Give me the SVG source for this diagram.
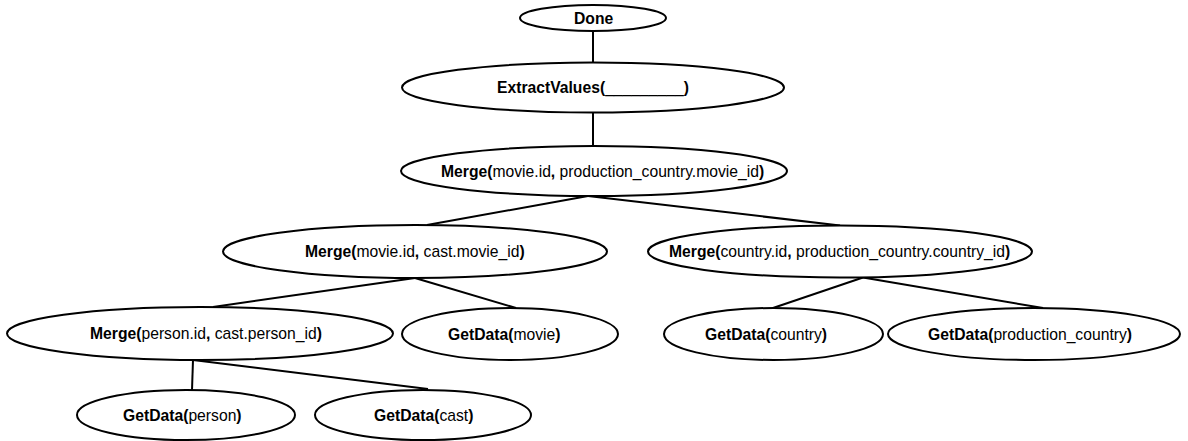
<svg xmlns="http://www.w3.org/2000/svg" width="1188" height="441" viewBox="0 0 1188 441">
<style>
.n{fill:#fff;stroke:#000;stroke-width:2}
.e line{stroke:#000;stroke-width:2}
text{font-family:"Liberation Sans",Arial,Helvetica,sans-serif;font-size:15.7px;fill:#000}
.b{font-weight:bold}
</style>
<rect width="1188" height="441" fill="#fff"/>
<g id="connectors" class="e">
<line x1="593" y1="31" x2="593" y2="62.5"/>
<line x1="593" y1="112.5" x2="593" y2="146"/>
<line x1="588" y1="196" x2="427" y2="225"/>
<line x1="588" y1="196" x2="840" y2="225.5"/>
<line x1="415" y1="278" x2="213" y2="307"/>
<line x1="415" y1="278" x2="516" y2="308"/>
<line x1="863" y1="277.5" x2="773" y2="308"/>
<line x1="863" y1="277.5" x2="1043" y2="308"/>
<line x1="193" y1="360" x2="192" y2="390"/>
<line x1="193" y1="360" x2="428" y2="389"/>
</g>
<g id="done"><ellipse class="n" cx="593" cy="18" rx="73" ry="13"/><text x="574" y="24" class="b">Done</text></g>
<g id="extract"><ellipse class="n" cx="593" cy="87.5" rx="191" ry="25"/><text x="497" y="93"><tspan class="b">ExtractValues(</tspan>_________<tspan class="b">)</tspan></text></g>
<g id="merge-top"><ellipse class="n" cx="594" cy="171" rx="193" ry="25"/><text x="441" y="177"><tspan class="b">Merge(</tspan>movie.id<tspan class="b">, </tspan>production_country.movie_id<tspan class="b">)</tspan></text></g>
<g id="merge-cast"><ellipse class="n" cx="415" cy="251.5" rx="192" ry="26.5"/><text x="305" y="257"><tspan class="b">Merge(</tspan>movie.id<tspan class="b">, </tspan>cast.movie_id<tspan class="b">)</tspan></text></g>
<g id="merge-country"><ellipse class="n" cx="840" cy="251.5" rx="192" ry="26"/><text x="669" y="257"><tspan class="b">Merge(</tspan>country.id<tspan class="b">, </tspan>production_country.country_id<tspan class="b">)</tspan></text></g>
<g id="merge-person"><ellipse class="n" cx="200" cy="333.5" rx="193" ry="26.5"/><text x="90" y="339"><tspan class="b">Merge(</tspan>person.id<tspan class="b">, </tspan>cast.person_id<tspan class="b">)</tspan></text></g>
<g id="getdata-movie"><ellipse class="n" cx="510" cy="334" rx="108" ry="26"/><text x="448" y="339.5"><tspan class="b">GetData(</tspan>movie<tspan class="b">)</tspan></text></g>
<g id="getdata-country"><ellipse class="n" cx="773.5" cy="334" rx="109.5" ry="26"/><text x="705" y="339.5"><tspan class="b">GetData(</tspan>country<tspan class="b">)</tspan></text></g>
<g id="getdata-production-country"><ellipse class="n" cx="1034" cy="334" rx="146" ry="26"/><text x="928" y="339.5"><tspan class="b">GetData(</tspan>production_country<tspan class="b">)</tspan></text></g>
<g id="getdata-person"><ellipse class="n" cx="186" cy="415" rx="109" ry="25"/><text x="123" y="421"><tspan class="b">GetData(</tspan>person<tspan class="b">)</tspan></text></g>
<g id="getdata-cast"><ellipse class="n" cx="423" cy="415" rx="108" ry="25"/><text x="374" y="421"><tspan class="b">GetData(</tspan>cast<tspan class="b">)</tspan></text></g>
</svg>
